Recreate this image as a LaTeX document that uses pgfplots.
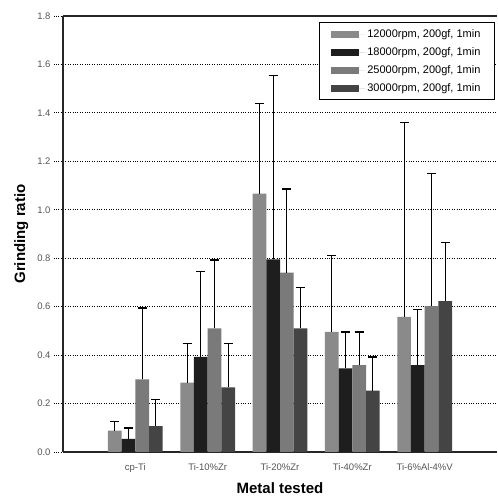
\documentclass[border=0pt]{standalone}
\usepackage{pgfplots}
\pgfplotsset{compat=1.18}
\usepackage{fontspec}
\setmainfont{Liberation Sans}
\definecolor{cA}{HTML}{8A8A8A}
\definecolor{cB}{HTML}{1E1E1E}
\definecolor{cC}{HTML}{7A7A7A}
\definecolor{cD}{HTML}{444444}
\definecolor{tickgray}{HTML}{555555}
\begin{document}
\begin{tikzpicture}
\begin{axis}[
  scale only axis,
  width=434pt, height=436pt,
  xmin=-1, xmax=5,
  ymin=0, ymax=1.8,
  ytick={0,0.2,...,1.8},
  yticklabel style={/pgf/number format/.cd, fixed, fixed zerofill, precision=1},
  /pgf/number format/assume math mode=true,
  xtick={0,1,2,3,4},
  xticklabels={cp-Ti, Ti-10\%Zr, Ti-20\%Zr, Ti-40\%Zr, Ti-6\%Al-4\%V},
  x tick style={draw=none},
  y tick style={black, dotted, line width=0.8pt},
  major tick length=9pt,
  tick align=outside,
  ticklabel style={font=\fontsize{9.5}{10}\selectfont, text=tickgray},
  xticklabel style={yshift=1pt},
  ymajorgrids,
  grid style={black, dotted, line width=0.8pt},
  axis lines*=left,
  axis line style={line width=1.2pt, black!85, -},
  xlabel={\textbf{Metal tested}},
  ylabel={\textbf{Grinding ratio}},
  label style={font=\fontsize{15}{17}\selectfont},
  xlabel style={yshift=-3pt},
  ylabel style={yshift=2pt},
  ybar=0pt,
  bar width=13.7pt,
  legend style={at={(0.995,0.986)}, anchor=north east, draw=black, line width=0.8pt,
    font=\fontsize{11}{12}\selectfont, row sep=4.5pt, inner xsep=12pt, inner ysep=5pt, fill=white},
  legend cell align=left,
  legend image code/.code={\draw[#1,draw=none] (0pt,-3.5pt) rectangle (28pt,3.5pt); \path (0pt,0pt) -- (34pt,0pt);},
  error bars/y dir=plus,
  error bars/y explicit,
  error bars/error bar style={black, line width=1.2pt},
  error bars/error mark options={rotate=90, mark size=4.5pt, line width=1.4pt, black},
]
\addplot[fill=cA, draw=none] coordinates {(0,0.088) +- (0,0.037) (1,0.286) +- (0,0.162) (2,1.067) +- (0,0.371) (3,0.496) +- (0,0.316) (4,0.558) +- (0,0.802)};
\addplot[fill=cB, draw=none] coordinates {(0,0.054) +- (0,0.045) (1,0.393) +- (0,0.353) (2,0.795) +- (0,0.760) (3,0.345) +- (0,0.151) (4,0.359) +- (0,0.229)};
\addplot[fill=cC, draw=none] coordinates {(0,0.300) +- (0,0.295) (1,0.510) +- (0,0.282) (2,0.741) +- (0,0.344) (3,0.359) +- (0,0.137) (4,0.602) +- (0,0.547)};
\addplot[fill=cD, draw=none] coordinates {(0,0.107) +- (0,0.110) (1,0.267) +- (0,0.181) (2,0.510) +- (0,0.169) (3,0.253) +- (0,0.140) (4,0.623) +- (0,0.242)};
\legend{{12000rpm, 200gf, 1min}, {18000rpm, 200gf, 1min}, {25000rpm, 200gf, 1min}, {30000rpm, 200gf, 1min}}
\draw[line width=1.2pt, black!85] (rel axis cs:0,1) -- (rel axis cs:1,1);
\end{axis}
\pgfresetboundingbox
\path ([xshift=-63pt,yshift=-47pt]current axis.south west) rectangle ([yshift=16pt]current axis.north east);
\end{tikzpicture}
\end{document}
